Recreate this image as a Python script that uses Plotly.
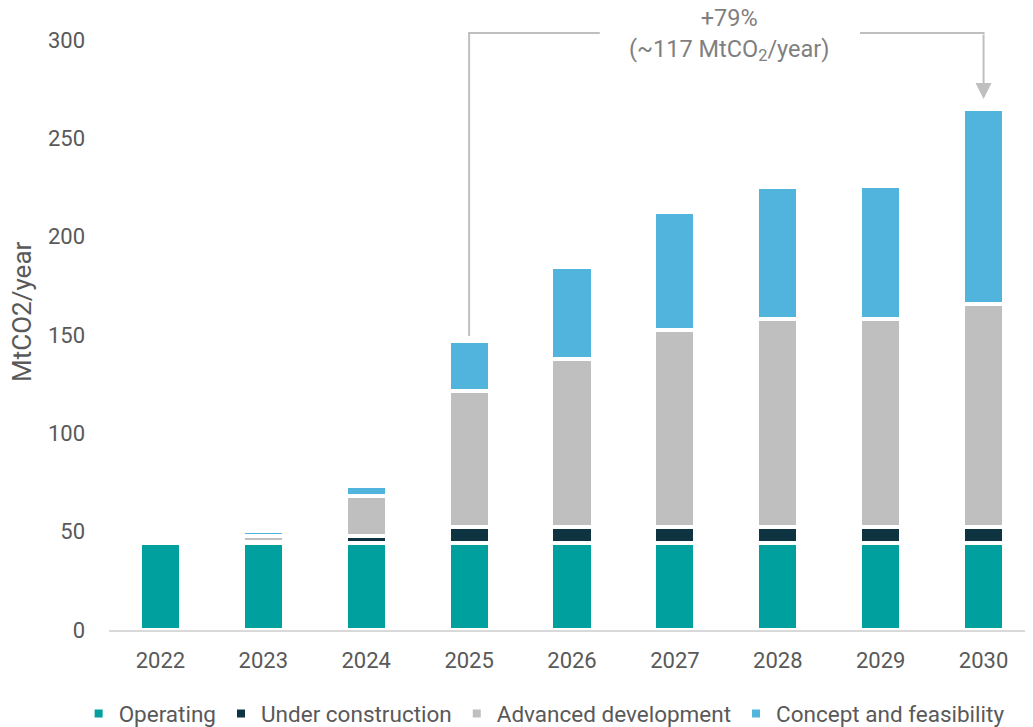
import plotly.graph_objects as go

years = ["2022", "2023", "2024", "2025", "2026", "2027", "2028", "2029", "2030"]
operating = [44, 44, 44, 44, 44, 44, 44, 44, 44]
under_construction = [0, 1, 4, 8.5, 8.5, 8.5, 8.5, 8.5, 8.5]
advanced_development = [0, 3, 20, 69, 85.5, 100, 105.5, 105.5, 113.5]
concept_feasibility = [0, 2.5, 5, 25.5, 46.5, 60, 67, 68, 99]

series = [
    ("Operating", operating, "#00A09F"),
    ("Under construction", under_construction, "#0E3442"),
    ("Advanced development", advanced_development, "#BFBFBF"),
    ("Concept and feasibility", concept_feasibility, "#50B4DC"),
]

FONT = "Roboto"
TXT = "#595959"

fig = go.Figure()
for name, vals, col in series:
    fig.add_trace(go.Bar(
        x=years, y=vals, name=name,
        marker=dict(color=col, line=dict(color="white", width=4)),
    ))

totals = [sum(v) for v in zip(operating, under_construction, advanced_development, concept_feasibility)]
i0, i1 = years.index("2025"), years.index("2030")
y_top = 303.5
grey = "#BFBFBF"

shapes = [
    dict(type="line", xref="x", yref="y", x0=i0, x1=i0, y0=totals[i0] + 2.5, y1=y_top,
         line=dict(color=grey, width=2)),
    dict(type="line", xref="x", yref="y", x0=i0 - 0.01, x1=4.27, y0=y_top, y1=y_top,
         line=dict(color=grey, width=2)),
    dict(type="line", xref="x", yref="y", x0=6.80, x1=i1 + 0.01, y0=y_top, y1=y_top,
         line=dict(color=grey, width=2)),
]

annotations = [
    dict(x=i1, y=totals[i1] + 5, xref="x", yref="y", ax=i1, ay=y_top, axref="x", ayref="y",
         text="", showarrow=True, arrowhead=2, arrowsize=1.6, arrowwidth=2, arrowcolor=grey,
         standoff=0, startstandoff=0),
    dict(x=5.53, y=302.8, xref="x", yref="y", showarrow=False,
         text="+79%<br>(~117 MtCO<sub>2</sub>/year)",
         font=dict(family=FONT, size=23.5, color="#7F7F7F"), align="center",
         xanchor="center", yanchor="middle"),
    dict(x=-0.094, y=0.513, xref="paper", yref="paper", showarrow=False,
         text="MtCO2/year", textangle=-90, xanchor="center", yanchor="middle",
         font=dict(family=FONT, size=26, color=TXT)),
]

fig.update_layout(
    width=1033, height=727,
    margin=dict(l=101, r=6, t=2, b=105, autoexpand=False),
    barmode="stack", bargap=0.6,
    plot_bgcolor="white", paper_bgcolor="white",
    font=dict(family=FONT, size=22, color=TXT),
    showlegend=True,
    legend=dict(orientation="h", x=0.519, xref="container", xanchor="center",
                y=0.0289, yref="container", yanchor="middle",
                font=dict(family=FONT, size=22.5, color=TXT), traceorder="normal",
                bgcolor="rgba(0,0,0,0)"),
    shapes=shapes, annotations=annotations,
)
fig.update_xaxes(type="category", showline=True, linecolor="#D9D9D9", linewidth=2,
                 showgrid=False, zeroline=False, ticks="", ticklabelstandoff=10,
                 automargin=False, tickfont=dict(family=FONT, size=22, color=TXT))
fig.update_yaxes(range=[0, 315.25], tickvals=[0, 50, 100, 150, 200, 250, 300],
                 showgrid=False, zeroline=False, showline=False, ticks="",
                 ticklabelstandoff=23, automargin=False,
                 tickfont=dict(family=FONT, size=22, color=TXT))

fig.write_html("out.html")
